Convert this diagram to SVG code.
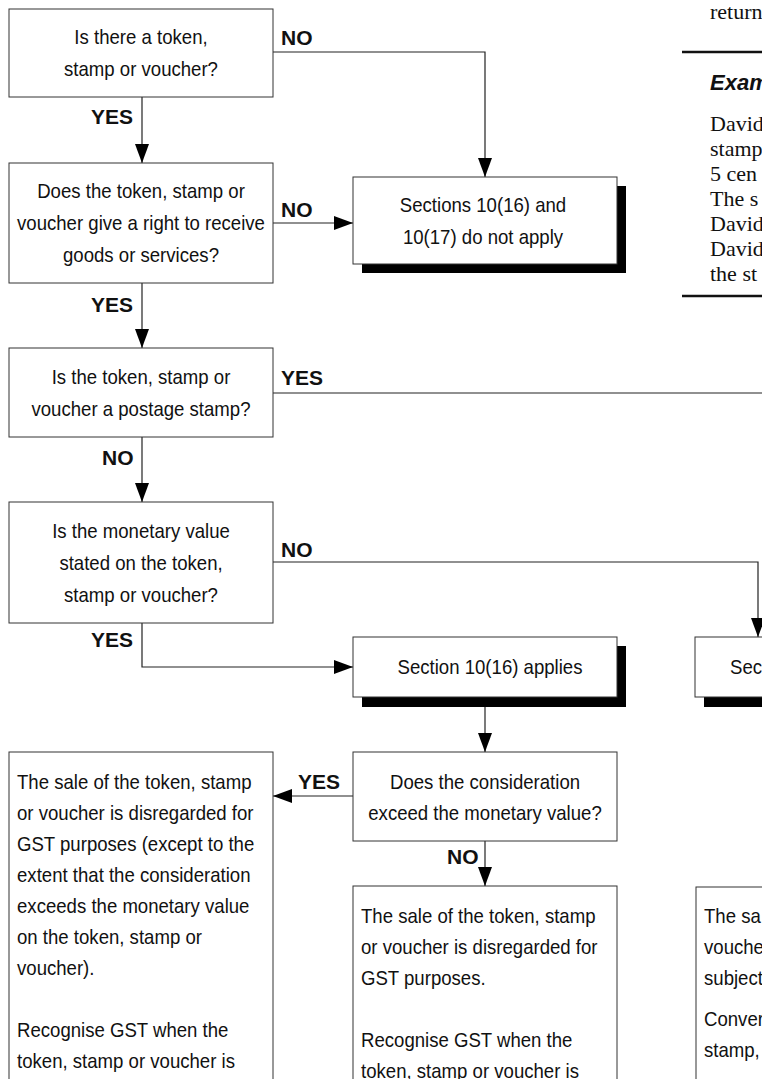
<svg xmlns="http://www.w3.org/2000/svg" width="762" height="1079" viewBox="0 0 762 1079">
<style>
.box{fill:#fff;stroke:#333;stroke-width:1}
.sh{fill:#000}
.t{font-family:"Liberation Sans",Arial,sans-serif;font-size:20px;fill:#111}
.c{text-anchor:middle}
.lbl{font-family:"Liberation Sans",Arial,sans-serif;font-size:21px;font-weight:bold;fill:#111}
.ln{fill:none;stroke:#222;stroke-width:1.2}
.ar{fill:none;stroke:#222;stroke-width:1.2;marker-end:url(#ah)}
.serif{font-family:"Liberation Serif","Times New Roman",serif;font-size:22px;fill:#111}
.ex{font-family:"Liberation Sans",Arial,sans-serif;font-size:22px;font-weight:bold;font-style:italic;fill:#111}
.rule{stroke:#111;stroke-width:2.5}
</style>
<defs>
<marker id="ah" markerWidth="19" markerHeight="14" refX="19" refY="7" orient="auto" markerUnits="userSpaceOnUse"><path d="M0,0 L19,7 L0,14 Z" fill="#000"/></marker>
</defs>

<g id="connectors">
<polyline class="ar" points="273,52 485,52 485,177"/>
<line class="ar" x1="142" y1="97" x2="142" y2="163"/>
<line class="ar" x1="273" y1="223" x2="353" y2="223"/>
<line class="ar" x1="142" y1="283" x2="142" y2="348"/>
<line class="ln" x1="273" y1="393" x2="762" y2="393"/>
<line class="ar" x1="142" y1="437" x2="142" y2="502"/>
<polyline class="ar" points="273,562 758,562 758,637"/>
<polyline class="ar" points="142,623 142,667 353,667"/>
<line class="ar" x1="485" y1="697" x2="485" y2="752"/>
<line class="ar" x1="353" y1="796" x2="273" y2="796"/>
<line class="ar" x1="485" y1="841" x2="485" y2="886"/>
</g>

<g id="labels">
<text class="lbl" x="281" y="45">NO</text>
<text class="lbl" x="91" y="124">YES</text>
<text class="lbl" x="281" y="217">NO</text>
<text class="lbl" x="91" y="312">YES</text>
<text class="lbl" x="281" y="385">YES</text>
<text class="lbl" x="102" y="465">NO</text>
<text class="lbl" x="281" y="557">NO</text>
<text class="lbl" x="91" y="647">YES</text>
<text class="lbl" x="298" y="789">YES</text>
<text class="lbl" x="447" y="864">NO</text>
</g>

<g id="n1">
<rect class="box" x="9" y="9" width="264" height="88"/>
<text class="t c" transform="translate(141,44) scale(.93,1)">Is there a token,</text>
<text class="t c" transform="translate(141,76) scale(.93,1)">stamp or voucher?</text>
</g>

<g id="n2">
<rect class="box" x="9" y="163" width="264" height="120"/>
<text class="t c" transform="translate(141,198) scale(.93,1)">Does the token, stamp or</text>
<text class="t c" transform="translate(141,230) scale(.93,1)">voucher give a right to receive</text>
<text class="t c" transform="translate(141,262) scale(.93,1)">goods or services?</text>
</g>

<g id="n3">
<rect class="sh" x="362" y="186" width="264" height="87"/>
<rect class="box" x="353" y="177" width="264" height="87"/>
<text class="t c" transform="translate(483,212) scale(.93,1)">Sections 10(16) and</text>
<text class="t c" transform="translate(483,244) scale(.93,1)">10(17) do not apply</text>
</g>

<g id="n4">
<rect class="box" x="9" y="348" width="264" height="89"/>
<text class="t c" transform="translate(141,384) scale(.93,1)">Is the token, stamp or</text>
<text class="t c" transform="translate(141,416) scale(.93,1)">voucher a postage stamp?</text>
</g>

<g id="n5">
<rect class="box" x="9" y="502" width="264" height="121"/>
<text class="t c" transform="translate(141,538) scale(.93,1)">Is the monetary value</text>
<text class="t c" transform="translate(141,570) scale(.93,1)">stated on the token,</text>
<text class="t c" transform="translate(141,602) scale(.93,1)">stamp or voucher?</text>
</g>

<g id="n6">
<rect class="sh" x="362" y="646" width="264" height="61"/>
<rect class="box" x="353" y="637" width="264" height="60"/>
<text class="t c" transform="translate(490,674) scale(.93,1)">Section 10(16) applies</text>
</g>

<g id="n7">
<rect class="sh" x="704" y="646" width="264" height="61"/>
<rect class="box" x="695" y="637" width="264" height="60"/>
<text class="t" transform="translate(730,674) scale(.93,1)">Sec</text>
</g>

<g id="n8">
<rect class="box" x="353" y="752" width="264" height="89"/>
<text class="t c" transform="translate(485,789) scale(.93,1)">Does the consideration</text>
<text class="t c" transform="translate(485,820) scale(.93,1)">exceed the monetary value?</text>
</g>

<g id="n9">
<rect class="box" x="9" y="752" width="264" height="340"/>
<text class="t" transform="translate(17,789) scale(.93,1)">The sale of the token, stamp</text>
<text class="t" transform="translate(17,820) scale(.93,1)">or voucher is disregarded for</text>
<text class="t" transform="translate(17,851) scale(.93,1)">GST purposes (except to the</text>
<text class="t" transform="translate(17,882) scale(.93,1)">extent that the consideration</text>
<text class="t" transform="translate(17,913) scale(.93,1)">exceeds the monetary value</text>
<text class="t" transform="translate(17,944) scale(.93,1)">on the token, stamp or</text>
<text class="t" transform="translate(17,975) scale(.93,1)">voucher).</text>
<text class="t" transform="translate(17,1037) scale(.93,1)">Recognise GST when the</text>
<text class="t" transform="translate(17,1068) scale(.93,1)">token, stamp or voucher is</text>
</g>

<g id="n10">
<rect class="box" x="353" y="886" width="264" height="250"/>
<text class="t" transform="translate(361,923) scale(.93,1)">The sale of the token, stamp</text>
<text class="t" transform="translate(361,954) scale(.93,1)">or voucher is disregarded for</text>
<text class="t" transform="translate(361,985) scale(.93,1)">GST purposes.</text>
<text class="t" transform="translate(361,1047) scale(.93,1)">Recognise GST when the</text>
<text class="t" transform="translate(361,1078) scale(.93,1)">token, stamp or voucher is</text>
</g>

<g id="n11">
<rect class="box" x="696" y="887" width="264" height="250"/>
<text class="t" transform="translate(704,923) scale(.93,1)">The sa</text>
<text class="t" transform="translate(704,954) scale(.93,1)">vouche</text>
<text class="t" transform="translate(704,985) scale(.93,1)">subject</text>
<text class="t" transform="translate(704,1026) scale(.93,1)">Conver</text>
<text class="t" transform="translate(704,1057) scale(.93,1)">stamp,</text>
</g>

<g id="sidetext">
<text class="serif" x="710" y="19">return</text>
<line class="rule" x1="682" y1="52" x2="762" y2="52"/>
<text class="ex" x="710" y="90">Exam</text>
<text class="serif" x="710" y="131">David</text>
<text class="serif" x="710" y="156">stamp</text>
<text class="serif" x="710" y="181">5 cen</text>
<text class="serif" x="710" y="206">The s</text>
<text class="serif" x="710" y="231">David</text>
<text class="serif" x="710" y="256">David</text>
<text class="serif" x="710" y="281">the st</text>
<line class="rule" x1="682" y1="296" x2="762" y2="296"/>
</g>
</svg>
